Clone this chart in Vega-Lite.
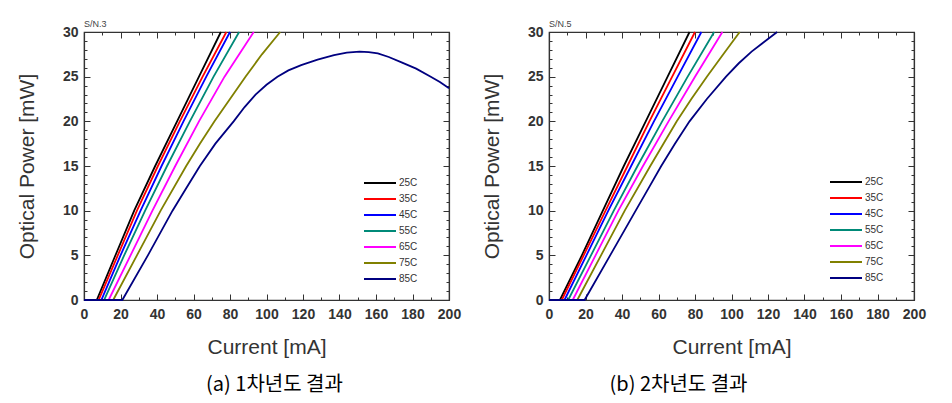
{
  "$schema": "https://vega.github.io/schema/vega-lite/v6.json",
  "background": "white",
  "padding": {"left": 15, "top": 19, "right": 5, "bottom": 5},
  "spacing": 18,
  "datasets": {
    "a": [
      {"temp": "25C", "current": 0, "power": 0}, {"temp": "25C", "current": 7, "power": 0}, {"temp": "25C", "current": 17, "power": 4.9}, {"temp": "25C", "current": 27.5, "power": 10}, {"temp": "25C", "current": 39, "power": 15}, {"temp": "25C", "current": 51, "power": 20}, {"temp": "25C", "current": 63, "power": 25}, {"temp": "25C", "current": 75, "power": 30},
      {"temp": "35C", "current": 0, "power": 0}, {"temp": "35C", "current": 8, "power": 0}, {"temp": "35C", "current": 18.5, "power": 5}, {"temp": "35C", "current": 29, "power": 10}, {"temp": "35C", "current": 40.5, "power": 15}, {"temp": "35C", "current": 52.5, "power": 20}, {"temp": "35C", "current": 65, "power": 25}, {"temp": "35C", "current": 78, "power": 30},
      {"temp": "45C", "current": 0, "power": 0}, {"temp": "45C", "current": 9.5, "power": 0}, {"temp": "45C", "current": 20, "power": 5}, {"temp": "45C", "current": 31, "power": 10}, {"temp": "45C", "current": 42.5, "power": 15}, {"temp": "45C", "current": 54.5, "power": 20}, {"temp": "45C", "current": 67, "power": 25}, {"temp": "45C", "current": 80, "power": 30},
      {"temp": "55C", "current": 0, "power": 0}, {"temp": "55C", "current": 11, "power": 0}, {"temp": "55C", "current": 22, "power": 5}, {"temp": "55C", "current": 33.5, "power": 10}, {"temp": "55C", "current": 45.5, "power": 15}, {"temp": "55C", "current": 58, "power": 20}, {"temp": "55C", "current": 71, "power": 25}, {"temp": "55C", "current": 85, "power": 30},
      {"temp": "65C", "current": 0, "power": 0}, {"temp": "65C", "current": 13.5, "power": 0}, {"temp": "65C", "current": 25.5, "power": 5}, {"temp": "65C", "current": 37.5, "power": 10}, {"temp": "65C", "current": 50, "power": 15}, {"temp": "65C", "current": 63, "power": 20}, {"temp": "65C", "current": 77, "power": 25}, {"temp": "65C", "current": 93, "power": 30},
      {"temp": "75C", "current": 0, "power": 0}, {"temp": "75C", "current": 16, "power": 0}, {"temp": "75C", "current": 29, "power": 5}, {"temp": "75C", "current": 42, "power": 10}, {"temp": "75C", "current": 56, "power": 15}, {"temp": "75C", "current": 63.5, "power": 17.5}, {"temp": "75C", "current": 71.5, "power": 20}, {"temp": "75C", "current": 80, "power": 22.5}, {"temp": "75C", "current": 88.5, "power": 25}, {"temp": "75C", "current": 97.5, "power": 27.5}, {"temp": "75C", "current": 107.5, "power": 30},
      {"temp": "85C", "current": 0, "power": 0}, {"temp": "85C", "current": 21, "power": 0}, {"temp": "85C", "current": 35, "power": 5}, {"temp": "85C", "current": 48.5, "power": 10}, {"temp": "85C", "current": 56, "power": 12.5}, {"temp": "85C", "current": 63.5, "power": 15}, {"temp": "85C", "current": 72, "power": 17.5}, {"temp": "85C", "current": 82, "power": 20}, {"temp": "85C", "current": 88, "power": 21.6}, {"temp": "85C", "current": 94, "power": 23}, {"temp": "85C", "current": 100, "power": 24.1}, {"temp": "85C", "current": 106, "power": 25}, {"temp": "85C", "current": 112, "power": 25.7}, {"temp": "85C", "current": 119, "power": 26.3}, {"temp": "85C", "current": 128, "power": 26.9}, {"temp": "85C", "current": 137, "power": 27.4}, {"temp": "85C", "current": 144, "power": 27.7}, {"temp": "85C", "current": 151, "power": 27.8}, {"temp": "85C", "current": 156, "power": 27.75}, {"temp": "85C", "current": 161, "power": 27.6}, {"temp": "85C", "current": 167, "power": 27.2}, {"temp": "85C", "current": 174, "power": 26.6}, {"temp": "85C", "current": 182, "power": 25.9}, {"temp": "85C", "current": 190, "power": 25}, {"temp": "85C", "current": 195, "power": 24.4}, {"temp": "85C", "current": 200, "power": 23.7}
    ],
    "b": [
      {"temp": "25C", "current": 0, "power": 0}, {"temp": "25C", "current": 6, "power": 0}, {"temp": "25C", "current": 18, "power": 5}, {"temp": "25C", "current": 29.5, "power": 10}, {"temp": "25C", "current": 41, "power": 15}, {"temp": "25C", "current": 53, "power": 20}, {"temp": "25C", "current": 65, "power": 25}, {"temp": "25C", "current": 77, "power": 30},
      {"temp": "35C", "current": 0, "power": 0}, {"temp": "35C", "current": 7, "power": 0}, {"temp": "35C", "current": 19, "power": 5}, {"temp": "35C", "current": 31, "power": 10}, {"temp": "35C", "current": 43, "power": 15}, {"temp": "35C", "current": 55, "power": 20}, {"temp": "35C", "current": 67.5, "power": 25}, {"temp": "35C", "current": 80, "power": 30},
      {"temp": "45C", "current": 0, "power": 0}, {"temp": "45C", "current": 8.5, "power": 0}, {"temp": "45C", "current": 20.5, "power": 5}, {"temp": "45C", "current": 32.5, "power": 10}, {"temp": "45C", "current": 45, "power": 15}, {"temp": "45C", "current": 57.5, "power": 20}, {"temp": "45C", "current": 70.5, "power": 25}, {"temp": "45C", "current": 83.5, "power": 30},
      {"temp": "55C", "current": 0, "power": 0}, {"temp": "55C", "current": 10.5, "power": 0}, {"temp": "55C", "current": 23, "power": 5}, {"temp": "55C", "current": 35.5, "power": 10}, {"temp": "55C", "current": 48.5, "power": 15}, {"temp": "55C", "current": 62, "power": 20}, {"temp": "55C", "current": 76, "power": 25}, {"temp": "55C", "current": 90.5, "power": 30},
      {"temp": "65C", "current": 0, "power": 0}, {"temp": "65C", "current": 13, "power": 0}, {"temp": "65C", "current": 25.5, "power": 5}, {"temp": "65C", "current": 38, "power": 10}, {"temp": "65C", "current": 51.5, "power": 15}, {"temp": "65C", "current": 65.5, "power": 20}, {"temp": "65C", "current": 80, "power": 25}, {"temp": "65C", "current": 95, "power": 30},
      {"temp": "75C", "current": 0, "power": 0}, {"temp": "75C", "current": 15.5, "power": 0}, {"temp": "75C", "current": 28.5, "power": 5}, {"temp": "75C", "current": 41.5, "power": 10}, {"temp": "75C", "current": 55.5, "power": 15}, {"temp": "75C", "current": 70, "power": 20}, {"temp": "75C", "current": 78, "power": 22.5}, {"temp": "75C", "current": 86.5, "power": 25}, {"temp": "75C", "current": 95.5, "power": 27.5}, {"temp": "75C", "current": 104.5, "power": 30},
      {"temp": "85C", "current": 0, "power": 0}, {"temp": "85C", "current": 19.5, "power": 0}, {"temp": "85C", "current": 33.5, "power": 5}, {"temp": "85C", "current": 47.5, "power": 10}, {"temp": "85C", "current": 54.5, "power": 12.5}, {"temp": "85C", "current": 61.5, "power": 15}, {"temp": "85C", "current": 69, "power": 17.5}, {"temp": "85C", "current": 77, "power": 20}, {"temp": "85C", "current": 86.5, "power": 22.5}, {"temp": "85C", "current": 97, "power": 25}, {"temp": "85C", "current": 104, "power": 26.5}, {"temp": "85C", "current": 111, "power": 27.8}, {"temp": "85C", "current": 118, "power": 28.9}, {"temp": "85C", "current": 125, "power": 30}
    ]
  },
  "hconcat": [
    {
      "width": 365,
      "height": 268,
      "title": {"text": "(a) 1차년도 결과", "orient": "bottom", "anchor": "middle", "dx": 8, "offset": 18, "fontSize": 20, "font": "Noto Sans CJK KR", "fontWeight": "normal", "color": "#000000"},
      "resolve": {"axis": {"x": "independent", "y": "independent"}},
      "layer": [
        {
          "data": {"name": "a"},
          "mark": {"type": "line", "strokeWidth": 1.8},
          "encoding": {
            "x": {"field": "current", "type": "quantitative", "scale": {"domain": [0, 200], "nice": false},
              "axis": {"orient": "bottom", "title": "Current [mA]", "labelPadding": 13, "titlePadding": 15, "values": [0,10,20,30,40,50,60,70,80,90,100,110,120,130,140,150,160,170,180,190,200], "labelExpr": "datum.value % 20 == 0 ? datum.label : ''", "tickSize": {"condition": {"test": "datum.value % 20 == 0", "value": -6}, "value": -3}}},
            "y": {"field": "power", "type": "quantitative", "scale": {"domain": [0, 30], "nice": false},
              "axis": {"orient": "left", "title": "Optical Power [mW]", "labelPadding": 12, "titlePadding": 25, "values": [0,1,2,3,4,5,6,7,8,9,10,11,12,13,14,15,16,17,18,19,20,21,22,23,24,25,26,27,28,29,30], "labelExpr": "datum.value % 5 == 0 ? datum.label : ''", "tickSize": {"condition": {"test": "datum.value % 5 == 0", "value": -6}, "value": -3}}},
            "color": {"field": "temp", "type": "nominal",
              "scale": {"domain": ["25C","35C","45C","55C","65C","75C","85C"], "range": ["#000000","#ff0000","#0000ff","#008a78","#ff00ff","#808000","#000080"]},
              "legend": {"orient": "none", "legendX": 303, "legendY": 146, "title": null, "symbolType": "M-7,0H1", "symbolSize": 64, "symbolStrokeWidth": 2, "rowPadding": 6, "labelFontSize": 10, "labelColor": "#333333", "labelFont": "Arial", "labelOffset": 2, "padding": 0}}
          }
        },
        {
          "data": {"values": [{"sn": "S/N.3"}]},
          "mark": {"type": "text", "align": "left", "baseline": "bottom", "dy": -3, "fontSize": 9, "color": "#444444", "font": "Arial"},
          "encoding": {
            "text": {"field": "sn"},
            "x": {"datum": 0, "type": "quantitative", "axis": {"orient": "top", "title": null, "labels": false, "values": [0,10,20,30,40,50,60,70,80,90,100,110,120,130,140,150,160,170,180,190,200], "tickSize": {"condition": {"test": "datum.value % 20 == 0", "value": -6}, "value": -3}}},
            "y": {"datum": 30, "type": "quantitative", "axis": {"orient": "right", "title": null, "labels": false, "values": [0,1,2,3,4,5,6,7,8,9,10,11,12,13,14,15,16,17,18,19,20,21,22,23,24,25,26,27,28,29,30], "tickSize": {"condition": {"test": "datum.value % 5 == 0", "value": -6}, "value": -3}}}
          }
        }
      ]
    },
    {
      "width": 365,
      "height": 268,
      "title": {"text": "(b) 2차년도 결과", "orient": "bottom", "anchor": "middle", "dx": -53, "offset": 18, "fontSize": 20, "font": "Noto Sans CJK KR", "fontWeight": "normal", "color": "#000000"},
      "resolve": {"axis": {"x": "independent", "y": "independent"}},
      "layer": [
        {
          "data": {"name": "b"},
          "mark": {"type": "line", "strokeWidth": 1.8},
          "encoding": {
            "x": {"field": "current", "type": "quantitative", "scale": {"domain": [0, 200], "nice": false},
              "axis": {"orient": "bottom", "title": "Current [mA]", "labelPadding": 13, "titlePadding": 15, "values": [0,10,20,30,40,50,60,70,80,90,100,110,120,130,140,150,160,170,180,190,200], "labelExpr": "datum.value % 20 == 0 ? datum.label : ''", "tickSize": {"condition": {"test": "datum.value % 20 == 0", "value": -6}, "value": -3}}},
            "y": {"field": "power", "type": "quantitative", "scale": {"domain": [0, 30], "nice": false},
              "axis": {"orient": "left", "title": "Optical Power [mW]", "labelPadding": 12, "titlePadding": 25, "values": [0,1,2,3,4,5,6,7,8,9,10,11,12,13,14,15,16,17,18,19,20,21,22,23,24,25,26,27,28,29,30], "labelExpr": "datum.value % 5 == 0 ? datum.label : ''", "tickSize": {"condition": {"test": "datum.value % 5 == 0", "value": -6}, "value": -3}}},
            "color": {"field": "temp", "type": "nominal",
              "scale": {"domain": ["25C","35C","45C","55C","65C","75C","85C"], "range": ["#000000","#ff0000","#0000ff","#008a78","#ff00ff","#808000","#000080"]},
              "legend": {"orient": "none", "legendX": 304, "legendY": 145, "title": null, "symbolType": "M-7,0H1", "symbolSize": 64, "symbolStrokeWidth": 2, "rowPadding": 6, "labelFontSize": 10, "labelColor": "#333333", "labelFont": "Arial", "labelOffset": 2, "padding": 0}}
          }
        },
        {
          "data": {"values": [{"sn": "S/N.5"}]},
          "mark": {"type": "text", "align": "left", "baseline": "bottom", "dy": -3, "fontSize": 9, "color": "#444444", "font": "Arial"},
          "encoding": {
            "text": {"field": "sn"},
            "x": {"datum": 0, "type": "quantitative", "axis": {"orient": "top", "title": null, "labels": false, "values": [0,10,20,30,40,50,60,70,80,90,100,110,120,130,140,150,160,170,180,190,200], "tickSize": {"condition": {"test": "datum.value % 20 == 0", "value": -6}, "value": -3}}},
            "y": {"datum": 30, "type": "quantitative", "axis": {"orient": "right", "title": null, "labels": false, "values": [0,1,2,3,4,5,6,7,8,9,10,11,12,13,14,15,16,17,18,19,20,21,22,23,24,25,26,27,28,29,30], "tickSize": {"condition": {"test": "datum.value % 5 == 0", "value": -6}, "value": -3}}}
          }
        }
      ]
    }
  ],
  "resolve": {"legend": {"color": "independent"}, "scale": {"color": "independent"}},
  "config": {
    "font": "Arial",
    "view": {"stroke": "#333333", "strokeWidth": 1.2},
    "axis": {"labelFont": "Arial", "labelFontSize": 14, "labelFontWeight": "bold", "labelColor": "#333333", "labelFlush": false, "titleFont": "Arial", "titleFontSize": 21, "titleFontWeight": "normal", "titleColor": "#333333", "tickColor": "#333333", "domainColor": "#333333", "domainWidth": 1.2, "grid": false}
  }
}
